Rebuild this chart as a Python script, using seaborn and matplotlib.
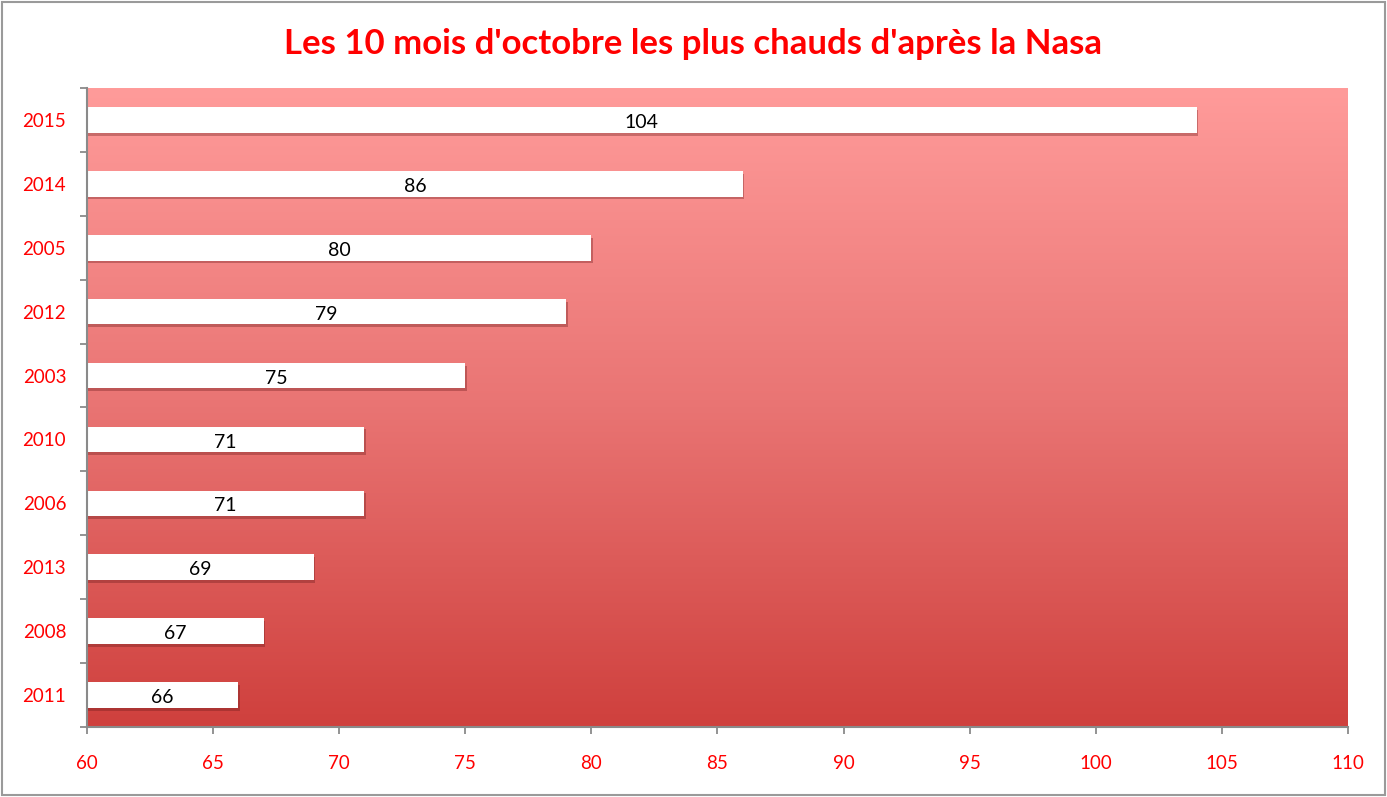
import numpy as np
import pandas as pd
import matplotlib.pyplot as plt
import matplotlib.colors as mcolors
import matplotlib.patheffects as pe
from matplotlib.patches import Rectangle
import seaborn as sns

years = ['2015', '2014', '2005', '2012', '2003', '2010', '2006', '2013', '2008', '2011']
values = [104, 86, 80, 79, 75, 71, 71, 69, 67, 66]
xticks = [60, 65, 70, 75, 80, 85, 90, 95, 100, 105, 110]
title = "Les 10 mois d'octobre les plus chauds d'après la Nasa"

df = pd.DataFrame({'annee': years, 'valeur': values})

sns.set_theme(style="white")
plt.rcParams['font.family'] = ['Lato', 'DejaVu Sans']

fig = plt.figure(figsize=(13.87, 7.97), dpi=100)
ax = fig.add_axes([87 / 1387, 1 - 727 / 797, (1348 - 87) / 1387, (727 - 88) / 797])

##### gradient background
cmap = mcolors.LinearSegmentedColormap.from_list('bg', ['#FF9B9A', '#E97473', '#CF403D'])
grad = np.linspace(0, 1, 256).reshape(-1, 1)
ax.imshow(grad, cmap=cmap, extent=[0, 1, 0, 1], transform=ax.transAxes,
          aspect='auto', zorder=0, origin='upper')

##### bars
sns.barplot(data=df, x='valeur', y='annee', order=years, orient='h',
            color='white', saturation=1, width=0.4, edgecolor='none', ax=ax, zorder=2)
for p in ax.patches:
    p.set_path_effects([pe.SimplePatchShadow(offset=(1, -2), shadow_rgbFace='#6a1a1a', alpha=0.35),
                        pe.Normal()])

for i, v in enumerate(values):
    ax.text((60 + v) / 2, i + 0.04, str(v), ha='center', va='center', fontsize=14, color='black', zorder=3)

ax.set_xlim(60, 110)
ax.set_ylim(len(years) - 0.5, -0.5)
ax.set_xticks(xticks)
ax.set_xlabel('')
ax.set_ylabel('')

##### axes style
for s in ['top', 'right']:
    ax.spines[s].set_visible(False)
for s in ['left', 'bottom']:
    ax.spines[s].set_color('#8a8a8a')
    ax.spines[s].set_linewidth(1.5)
    ax.spines[s].set_zorder(4)

ax.tick_params(axis='x', colors='#8a8a8a', direction='out', length=5, width=1.3,
               labelcolor='red', labelsize=13.5, pad=15, bottom=True)
ax.tick_params(axis='y', which='major', length=0, labelcolor='red', labelsize=13.5, pad=15)
ax.set_yticks(np.arange(-0.5, len(years)), minor=True)
ax.tick_params(axis='y', which='minor', colors='#8a8a8a', direction='out', length=5, width=1.3, left=True)

fig.text(693 / 1387, 1 - 44 / 797, title, ha='center', va='center',
         fontsize=25, fontweight='bold', color='red')

fig.patches.append(Rectangle((0.0015, 0.0025), 0.997, 0.995, transform=fig.transFigure,
                             fill=False, edgecolor='#9a9a9a', linewidth=1.5))

plt.savefig('out.png', dpi=100)
plt.close()
